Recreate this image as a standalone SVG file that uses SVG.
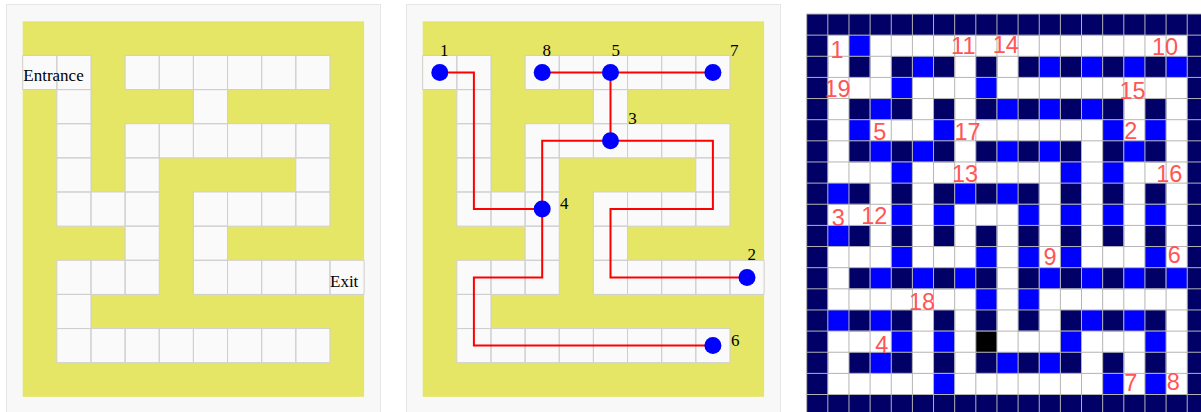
<svg xmlns="http://www.w3.org/2000/svg" width="1201" height="412" viewBox="0 0 1201 412">
<style>
.panel{fill:#f8f8f8;stroke:#e6e6e6;stroke-width:1}
.yel{fill:#e5e566}
.cells{fill:#fafafa;stroke:#cfcfcf;stroke-width:1;vector-effect:non-scaling-stroke}
.lbl{font-family:"Liberation Serif","Times New Roman",serif;font-size:17px;fill:#000}
.dot{fill:#0000ff}
.edge{fill:none;stroke:#ff0000;stroke-width:2}
.num{font-family:"Liberation Sans",Arial,sans-serif;font-size:23.5px;fill:#ff5555;text-anchor:middle}
.grid{fill:none;stroke:#b4b4b4;stroke-width:1;vector-effect:non-scaling-stroke}
</style>
<defs>
<pattern id="pillars" patternUnits="userSpaceOnUse" x="0" y="0" width="2" height="2">
<rect x="0" y="0" width="1" height="1" fill="#000066"/>
</pattern>
</defs>
<rect width="1201" height="412" fill="#ffffff"/>

<g id="maze-plain">
<rect class="panel" x="6.5" y="4.5" width="374" height="415"/>
<g transform="translate(22.7,21.3) scale(34.14)">
<rect class="yel" x="0" y="0" width="10" height="11"/>
<path class="cells" d="M0 1h1v1h-1zM1 1h1v1h-1zM3 1h1v1h-1zM4 1h1v1h-1zM5 1h1v1h-1zM6 1h1v1h-1zM7 1h1v1h-1zM8 1h1v1h-1zM1 2h1v1h-1zM5 2h1v1h-1zM1 3h1v1h-1zM3 3h1v1h-1zM4 3h1v1h-1zM5 3h1v1h-1zM6 3h1v1h-1zM7 3h1v1h-1zM8 3h1v1h-1zM1 4h1v1h-1zM3 4h1v1h-1zM8 4h1v1h-1zM1 5h1v1h-1zM2 5h1v1h-1zM3 5h1v1h-1zM5 5h1v1h-1zM6 5h1v1h-1zM7 5h1v1h-1zM8 5h1v1h-1zM3 6h1v1h-1zM5 6h1v1h-1zM1 7h1v1h-1zM2 7h1v1h-1zM3 7h1v1h-1zM5 7h1v1h-1zM6 7h1v1h-1zM7 7h1v1h-1zM8 7h1v1h-1zM9 7h1v1h-1zM1 8h1v1h-1zM1 9h1v1h-1zM2 9h1v1h-1zM3 9h1v1h-1zM4 9h1v1h-1zM5 9h1v1h-1zM6 9h1v1h-1zM7 9h1v1h-1zM8 9h1v1h-1z"/>
</g>
<text class="lbl" x="23.3" y="81">Entrance</text>
<text class="lbl" x="330" y="287">Exit</text>
</g>

<g id="maze-graph">
<rect class="panel" x="406.5" y="4.5" width="374" height="415"/>
<g transform="translate(422.7,21.3) scale(34.14)">
<rect class="yel" x="0" y="0" width="10" height="11"/>
<path class="cells" d="M0 1h1v1h-1zM1 1h1v1h-1zM3 1h1v1h-1zM4 1h1v1h-1zM5 1h1v1h-1zM6 1h1v1h-1zM7 1h1v1h-1zM8 1h1v1h-1zM1 2h1v1h-1zM5 2h1v1h-1zM1 3h1v1h-1zM3 3h1v1h-1zM4 3h1v1h-1zM5 3h1v1h-1zM6 3h1v1h-1zM7 3h1v1h-1zM8 3h1v1h-1zM1 4h1v1h-1zM3 4h1v1h-1zM8 4h1v1h-1zM1 5h1v1h-1zM2 5h1v1h-1zM3 5h1v1h-1zM5 5h1v1h-1zM6 5h1v1h-1zM7 5h1v1h-1zM8 5h1v1h-1zM3 6h1v1h-1zM5 6h1v1h-1zM1 7h1v1h-1zM2 7h1v1h-1zM3 7h1v1h-1zM5 7h1v1h-1zM6 7h1v1h-1zM7 7h1v1h-1zM8 7h1v1h-1zM9 7h1v1h-1zM1 8h1v1h-1zM1 9h1v1h-1zM2 9h1v1h-1zM3 9h1v1h-1zM4 9h1v1h-1zM5 9h1v1h-1zM6 9h1v1h-1zM7 9h1v1h-1zM8 9h1v1h-1z"/>
</g>
<g id="connectors">
<path class="edge" d="M439.8,72.5H473.9V209.1H542.2"/>
<path class="edge" d="M542.2,72.5H712.9"/>
<path class="edge" d="M610.5,72.5V140.8"/>
<path class="edge" d="M610.5,140.8H542.2V209.1"/>
<path class="edge" d="M610.5,140.8H712.9V209.1H610.5V277.4H747"/>
<path class="edge" d="M542.2,209.1V277.4H473.9V345.6H712.9"/>
</g>
<g id="node-1"><circle class="dot" cx="439.8" cy="72.5" r="8.5"/><text class="lbl" x="444.2" y="56" text-anchor="middle">1</text></g>
<g id="node-8"><circle class="dot" cx="542.2" cy="72.5" r="8.5"/><text class="lbl" x="546.7" y="56" text-anchor="middle">8</text></g>
<g id="node-5"><circle class="dot" cx="610.5" cy="72.5" r="8.5"/><text class="lbl" x="615.8" y="56" text-anchor="middle">5</text></g>
<g id="node-7"><circle class="dot" cx="712.9" cy="72.5" r="8.5"/><text class="lbl" x="734.2" y="56" text-anchor="middle">7</text></g>
<g id="node-3"><circle class="dot" cx="610.5" cy="140.8" r="8.5"/><text class="lbl" x="632.5" y="124" text-anchor="middle">3</text></g>
<g id="node-4"><circle class="dot" cx="542.2" cy="209.1" r="8.5"/><text class="lbl" x="564.2" y="209" text-anchor="middle">4</text></g>
<g id="node-2"><circle class="dot" cx="747" cy="277.4" r="8.5"/><text class="lbl" x="751.8" y="260" text-anchor="middle">2</text></g>
<g id="node-6"><circle class="dot" cx="712.9" cy="345.6" r="8.5"/><text class="lbl" x="735.2" y="346" text-anchor="middle">6</text></g>
</g>

<g id="maze-grid">
<g transform="translate(806.7,14) scale(21.14)">
<rect x="0" y="0" width="19" height="19" fill="#000066"/>
<rect x="1" y="1" width="17" height="17" fill="#ffffff"/>
<rect x="1" y="1" width="17" height="17" fill="url(#pillars)"/>
<path fill="#0000ff" d="M2 1h1v1h-1zM5 2h1v1h-1zM11 2h1v1h-1zM13 2h1v1h-1zM15 2h1v1h-1zM17 2h1v1h-1zM4 3h1v1h-1zM8 3h1v1h-1zM3 4h1v1h-1zM9 4h1v1h-1zM11 4h1v1h-1zM13 4h1v1h-1zM2 5h1v1h-1zM6 5h1v1h-1zM14 5h1v1h-1zM16 5h1v1h-1zM3 6h1v1h-1zM5 6h1v1h-1zM9 6h1v1h-1zM11 6h1v1h-1zM15 6h1v1h-1zM4 7h1v1h-1zM12 7h1v1h-1zM14 7h1v1h-1zM1 8h1v1h-1zM7 8h1v1h-1zM9 8h1v1h-1zM4 9h1v1h-1zM6 9h1v1h-1zM10 9h1v1h-1zM12 9h1v1h-1zM14 9h1v1h-1zM16 9h1v1h-1zM1 10h1v1h-1zM4 11h1v1h-1zM8 11h1v1h-1zM10 11h1v1h-1zM12 11h1v1h-1zM16 11h1v1h-1zM3 12h1v1h-1zM5 12h1v1h-1zM7 12h1v1h-1zM11 12h1v1h-1zM13 12h1v1h-1zM15 12h1v1h-1zM17 12h1v1h-1zM8 13h1v1h-1zM10 13h1v1h-1zM1 14h1v1h-1zM3 14h1v1h-1zM13 14h1v1h-1zM15 14h1v1h-1zM4 15h1v1h-1zM6 15h1v1h-1zM12 15h1v1h-1zM16 15h1v1h-1zM3 16h1v1h-1zM9 16h1v1h-1zM11 16h1v1h-1zM6 17h1v1h-1zM14 17h1v1h-1zM16 17h1v1h-1z"/>
<rect x="8" y="15" width="1" height="1" fill="#000000"/>
<path class="grid" d="M0 0V19M1 0V19M2 0V19M3 0V19M4 0V19M5 0V19M6 0V19M7 0V19M8 0V19M9 0V19M10 0V19M11 0V19M12 0V19M13 0V19M14 0V19M15 0V19M16 0V19M17 0V19M18 0V19M19 0V19M0 0H19M0 1H19M0 2H19M0 3H19M0 4H19M0 5H19M0 6H19M0 7H19M0 8H19M0 9H19M0 10H19M0 11H19M0 12H19M0 13H19M0 14H19M0 15H19M0 16H19M0 17H19M0 18H19M0 19H19"/>
</g>
<text class="num" x="837" y="58">1</text>
<text class="num" x="963.3" y="54">11</text>
<text class="num" x="1005.8" y="53">14</text>
<text class="num" x="1165" y="55">10</text>
<text class="num" x="837.5" y="97">19</text>
<text class="num" x="1132.5" y="99">15</text>
<text class="num" x="879.7" y="140">5</text>
<text class="num" x="967.5" y="140">17</text>
<text class="num" x="1130.8" y="139">2</text>
<text class="num" x="965" y="182">13</text>
<text class="num" x="1169.2" y="182">16</text>
<text class="num" x="838.3" y="226">3</text>
<text class="num" x="874.2" y="224">12</text>
<text class="num" x="1050" y="265">9</text>
<text class="num" x="1174.2" y="263">6</text>
<text class="num" x="922" y="310">18</text>
<text class="num" x="881.7" y="353">4</text>
<text class="num" x="1130.8" y="391">7</text>
<text class="num" x="1173.3" y="390">8</text>
</g>
</svg>
